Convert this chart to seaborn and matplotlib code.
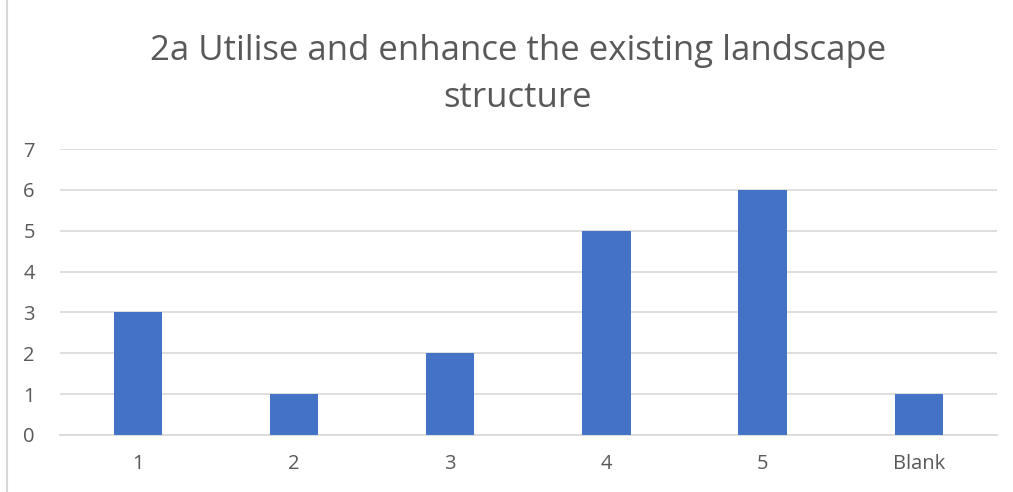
import numpy as np
import pandas as pd
import matplotlib.pyplot as plt
import matplotlib.lines as mlines
import seaborn as sns

categories = ['1', '2', '3', '4', '5', 'Blank']
counts = [3, 1, 2, 5, 6, 1]
yticks = [0, 1, 2, 3, 4, 5, 6, 7]
title = '2a Utilise and enhance the existing landscape\nstructure'

bar_color = '#4472C4'
grid_color = '#D9D9D9'
text_color = '#595959'

sns.set_theme(style='white')
plt.rcParams['font.family'] = ['Open Sans', 'DejaVu Sans']

df = pd.DataFrame({'category': categories, 'count': counts})

f = plt.figure(figsize=(10.13, 4.92), dpi=100)
ax = f.add_axes([0.059, 0.116, 0.925, 0.581])

sns.barplot(data=df, x='category', y='count', color=bar_color, width=0.31,
            saturation=1, linewidth=0, ax=ax, zorder=3)

ax.set_ylim(0, 7)
ax.set_yticks(yticks)
ax.set_yticklabels([str(t) for t in yticks])
ax.grid(axis='y', color=grid_color, linewidth=1.2, zorder=0)
ax.set_axisbelow(True)
for s in ['top', 'right', 'left']:
    ax.spines[s].set_visible(False)
ax.spines['bottom'].set_color(grid_color)
ax.spines['bottom'].set_linewidth(1.2)
ax.tick_params(axis='both', length=0, labelsize=14.5, colors=text_color)
ax.tick_params(axis='y', pad=18)
ax.tick_params(axis='x', pad=14)
ax.set_xlabel('')
ax.set_ylabel('')

f.suptitle(title, fontsize=25, color=text_color, x=0.511, y=0.93, linespacing=1.5)

# light frame line on the left edge
f.add_artist(mlines.Line2D([0.007, 0.007], [0, 1], transform=f.transFigure,
                           color='#D9D9D9', linewidth=1.5))

f.savefig('out.png', dpi=100)
